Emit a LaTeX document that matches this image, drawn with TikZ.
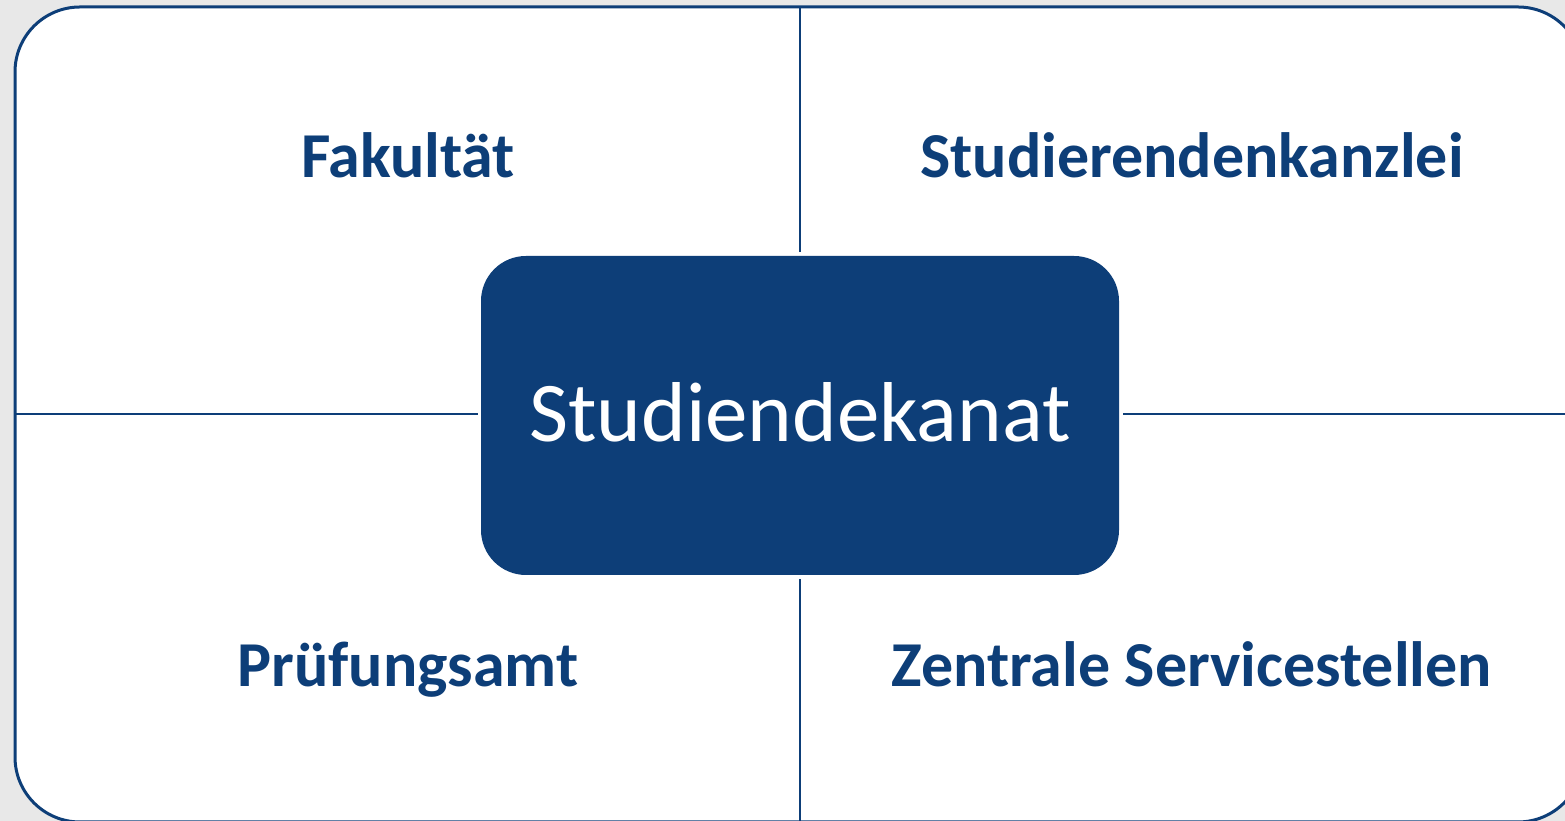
\documentclass[tikz,border=0pt]{standalone}
\usepackage{fontspec}
\setmainfont{Carlito}
\definecolor{uniblue}{RGB}{13,62,120}
\definecolor{bggray}{RGB}{232,232,232}
\begin{document}
\begin{tikzpicture}[x=1pt,y=1pt,
  frame/.style={draw=uniblue,line width=3pt,fill=white,rounded corners=65pt,inner sep=0pt},
  core/.style={fill=uniblue,rounded corners=45pt,inner sep=0pt,minimum width=638pt,minimum height=319pt},
  conn/.style={draw=uniblue,line width=2.6pt},
  lbl/.style={text=uniblue,font=\fontsize{64}{72}\selectfont\bfseries,anchor=base,inner sep=0pt}]
\useasboundingbox (0,0) rectangle (1565,821);
\fill[bggray] (0,0) rectangle (1565,821);
\clip (0,0) rectangle (1565,821);
\node[frame,minimum width=1568pt,minimum height=815pt] (outer) at (799,406.5) {};
\node[core] (box) at (800,405.5) {};
\node[text=white,font=\fontsize{85}{95}\selectfont,anchor=base,inner sep=0pt] (sd) at (800,379) {Studiendekanat};
\coordinate (ntop) at (800,814);
\coordinate (nbot) at (800,-1);
\coordinate (wl) at (15,407);
\coordinate (el) at (1583,407);
\draw[conn] (ntop) -- ([yshift=4pt]box.north);
\draw[conn] (nbot) -- ([yshift=-4pt]box.south);
\draw[conn] (wl) -- ([xshift=-3pt]box.west |- wl);
\draw[conn] (el) -- ([xshift=4pt]box.east |- el);
\node[lbl] (fak) at (408,643) {Fakultät};
\node[lbl] (stk) at (1192,643) {Studierendenkanzlei};
\node[lbl] (pa) at (408,134) {Prüfungsamt};
\node[lbl] (zs) at (1192,134) {Zentrale Servicestellen};
\end{tikzpicture}
\end{document}
